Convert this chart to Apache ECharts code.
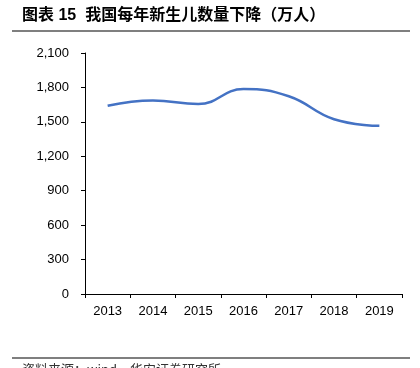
<!DOCTYPE html>
<html>
<head>
<meta charset="utf-8">
<script src="https://cdn.jsdelivr.net/npm/echarts@6/dist/echarts.min.js"></script>
<style>
html,body{margin:0;padding:0;background:#fff;}
#c{width:420px;height:368px;}
</style>
</head>
<body>
<div id="c"></div>
<script>
const titleText = '图表 15  我国每年新生儿数量下降（万人）';
const sourceText = '资料来源：wind，华安证券研究所';
const categories = ['2013','2014','2015','2016','2017','2018','2019'];
const births = [1640, 1687, 1655, 1786, 1723, 1523, 1465];
const yTicks = {min: 0, max: 2100, interval: 300};

const chart = echarts.init(document.getElementById('c'), null, {renderer: 'canvas'});
chart.setOption({
  animation: false,
  backgroundColor: '#fff',
  textStyle: {fontFamily: 'Liberation Sans, Arial, Noto Sans CJK SC'},
  graphic: [
    {type: 'text', left: 22, top: 8, style: {text: titleText, fill: '#000', font: 'bold 16px "Liberation Sans", "Noto Sans CJK SC"'}},
    {type: 'line', shape: {x1: 12, y1: 31, x2: 410, y2: 31}, style: {stroke: '#000', lineWidth: 1.2}},
    {type: 'line', shape: {x1: 12, y1: 358, x2: 410, y2: 358}, style: {stroke: '#000', lineWidth: 1.2}},
    {type: 'text', left: 22, top: 363, style: {text: sourceText, fill: '#333', font: '13px "Noto Sans CJK SC"'}}
  ],
  grid: {left: 85, right: 18, top: 53, bottom: 74},
  xAxis: {
    type: 'category',
    data: categories,
    boundaryGap: true,
    axisLine: {lineStyle: {color: '#000', width: 1}},
    axisTick: {show: true, length: 4, lineStyle: {color: '#000'}},
    axisLabel: {color: '#000', fontSize: 13, margin: 11, fontFamily: 'Liberation Sans'}
  },
  yAxis: {
    type: 'value',
    min: yTicks.min, max: yTicks.max, interval: yTicks.interval,
    axisLine: {show: true, lineStyle: {color: '#000', width: 1}},
    axisTick: {show: true, length: 4, lineStyle: {color: '#000'}},
    splitLine: {show: false},
    axisLabel: {color: '#000', fontSize: 13, margin: 16, fontFamily: 'Liberation Sans',
      formatter: v => v.toLocaleString('en-US')}
  },
  series: [{
    type: 'line',
    data: births,
    smooth: 0.45,
    symbol: 'none',
    lineStyle: {color: '#4472C4', width: 2.5}
  }]
});
</script>
</body>
</html>
